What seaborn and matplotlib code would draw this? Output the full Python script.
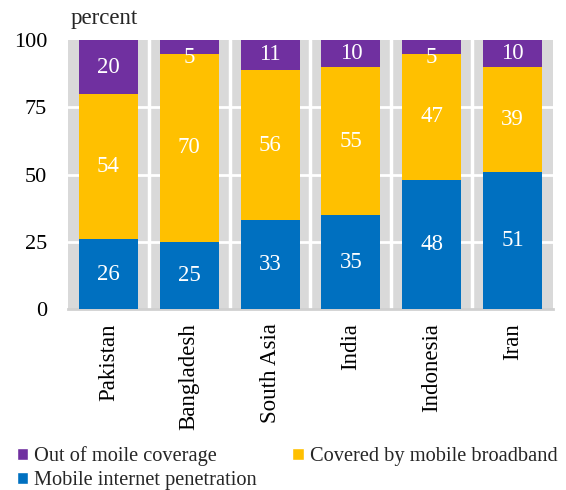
import matplotlib
matplotlib.use("Agg")
import matplotlib.pyplot as plt
import seaborn as sns
import pandas as pd
import numpy as np
from matplotlib.patches import Patch

countries = ["Pakistan", "Bangladesh", "South Asia", "India", "Indonesia", "Iran"]
penetration = [26, 25, 33, 35, 48, 51]
broadband = [54, 70, 56, 55, 47, 39]
out_of_coverage = [20, 5, 11, 10, 5, 10]
series_names = ["Out of moile coverage", "Covered by mobile broadband", "Mobile internet penetration"]
yticks = [0, 25, 50, 75, 100]

purple, yellow, blue = "#7030A0", "#FFC000", "#0070C0"
grey_bg = "#D9D9D9"

sns.set_theme(style="white")
plt.rcParams["font.family"] = ["Liberation Serif", "DejaVu Serif"]

df = pd.DataFrame({"country": countries, "pen": penetration, "bb": broadband, "out": out_of_coverage})
df["lvl1"] = df["pen"]
df["lvl2"] = df["pen"] + df["bb"]
df["lvl3"] = df["lvl2"] + df["out"]

fig = plt.figure(figsize=(5.66, 4.90), dpi=100)
ax = fig.add_axes([0.120, 0.369, 0.857, 0.549])
ax.set_facecolor(grey_bg)

bw = 0.73
# stacked segments drawn as overlapping cumulative bars, tallest first
for col, colr in [("lvl3", purple), ("lvl2", yellow), ("lvl1", blue)]:
    sns.barplot(data=df, x="country", y=col, color=colr, saturation=1, width=bw,
                linewidth=0, ax=ax, zorder=3)

ax.set_xlim(-0.5, len(countries) - 0.5)
ax.set_ylim(0, 100)
ax.set_yticks(yticks)
ax.set_xlabel("")
ax.set_ylabel("")

# white separators: horizontal gridlines and category boundaries
for y in yticks[1:-1]:
    ax.axhline(y, color="white", lw=2, zorder=1)
for i in range(len(countries) - 1):
    ax.axvline(i + 0.5, color="white", lw=2.5, zorder=1)

for s in ["top", "right", "left"]:
    ax.spines[s].set_visible(False)
ax.spines["bottom"].set_color("#D0D0D0")
ax.spines["bottom"].set_linewidth(2)

ax.tick_params(axis="y", length=0, pad=15, labelsize=16, colors="black")
ax.tick_params(axis="x", length=0, pad=10, labelsize=16.5, colors="black")
plt.setp(ax.get_xticklabels(), rotation=90)

# value labels centred on each segment
for i in range(len(countries)):
    segs = [(0, penetration[i]), (penetration[i], broadband[i]),
            (penetration[i] + broadband[i], out_of_coverage[i])]
    for base, val in segs:
        yc = base + val / 2
        if val < 8:
            yc = 100 - 6.5
        ax.text(i, yc, f"{val}", ha="center", va="center", color="white",
                fontsize=16.5, zorder=5)

fig.text(0.124, 0.940, "percent", fontsize=16.5, ha="left", va="bottom")

handles = [Patch(facecolor=purple, label=series_names[0]),
           Patch(facecolor=blue, label=series_names[2]),
           Patch(facecolor=yellow, label=series_names[1])]
fig.legend(handles=handles, ncol=2, loc="lower left", bbox_to_anchor=(0.015, -0.017),
           frameon=False, fontsize=14.7, handlelength=0.55, handleheight=0.55,
           handletextpad=0.3, columnspacing=1.75, labelspacing=0.23, borderaxespad=0)

fig.savefig("out.png", dpi=100)
